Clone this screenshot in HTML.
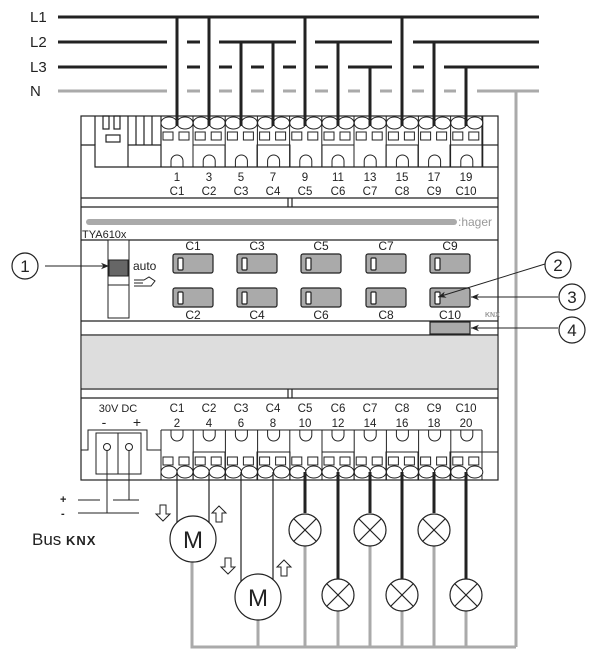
<!DOCTYPE html>
<html><head><meta charset="utf-8"><style>
html,body{margin:0;padding:0;background:#fff;}
svg{display:block;font-family:"Liberation Sans",Arial,sans-serif;}
</style></head><body>
<svg width="609" height="663" viewBox="0 0 609 663" xmlns="http://www.w3.org/2000/svg">
<defs>
<marker id="ah" viewBox="0 0 10 10" refX="10" refY="5" markerWidth="8" markerHeight="8" orient="auto"><path d="M0,1 L10,5 L0,9 L3,5 z" fill="#222"/></marker>
</defs>
<!-- Line labels -->
<g font-size="15" fill="#222">
<text x="30" y="22">L1</text><text x="30" y="47">L2</text><text x="30" y="72">L3</text><text x="30" y="96">N</text>
</g>
<g stroke="#222" stroke-width="3">
<line x1="58" y1="17" x2="539" y2="17"/>
<line x1="58" y1="42" x2="167" y2="42"/><line x1="187" y1="42" x2="200" y2="42"/><line x1="219" y1="42" x2="296" y2="42"/><line x1="315" y1="42" x2="392" y2="42"/><line x1="413" y1="42" x2="539" y2="42"/>
<line x1="58" y1="67" x2="167" y2="67"/><line x1="187" y1="67" x2="200" y2="67"/><line x1="219" y1="67" x2="232" y2="67"/><line x1="251" y1="67" x2="264" y2="67"/><line x1="283" y1="67" x2="296" y2="67"/><line x1="315" y1="67" x2="328" y2="67"/><line x1="348" y1="67" x2="392" y2="67"/><line x1="413" y1="67" x2="424" y2="67"/><line x1="444" y1="67" x2="539" y2="67"/>
<!-- drops -->
<line x1="177" y1="17" x2="177" y2="126"/><line x1="209" y1="17" x2="209" y2="126"/><line x1="305" y1="17" x2="305" y2="126"/><line x1="402" y1="17" x2="402" y2="126"/>
<line x1="241" y1="42" x2="241" y2="126"/><line x1="273" y1="42" x2="273" y2="126"/><line x1="338" y1="42" x2="338" y2="126"/><line x1="434" y1="42" x2="434" y2="126"/>
<line x1="370" y1="67" x2="370" y2="126"/><line x1="466" y1="67" x2="466" y2="126"/>
</g>
<g stroke="#aaa" stroke-width="3">
<line x1="58" y1="91" x2="167" y2="91"/><line x1="187" y1="91" x2="200" y2="91"/><line x1="219" y1="91" x2="232" y2="91"/><line x1="251" y1="91" x2="264" y2="91"/><line x1="283" y1="91" x2="296" y2="91"/><line x1="315" y1="91" x2="328" y2="91"/><line x1="348" y1="91" x2="360" y2="91"/><line x1="380" y1="91" x2="392" y2="91"/><line x1="412" y1="91" x2="424" y2="91"/><line x1="444" y1="91" x2="456" y2="91"/><line x1="477" y1="91" x2="539" y2="91"/>
<line x1="516" y1="91" x2="516" y2="647"/>
<polyline points="192,560 192,647 516,647" fill="none"/>
<line x1="258" y1="620" x2="258" y2="647"/>
<line x1="305" y1="545" x2="305" y2="647"/><line x1="370" y1="545" x2="370" y2="647"/><line x1="434" y1="545" x2="434" y2="647"/>
<line x1="338" y1="611" x2="338" y2="647"/><line x1="402" y1="611" x2="402" y2="647"/><line x1="466" y1="611" x2="466" y2="647"/>
</g>
<!-- Device -->
<g fill="none" stroke="#222" stroke-width="1.2">
<rect x="81" y="116" width="417" height="364" fill="#fff"/>
<line x1="81" y1="198" x2="498" y2="198"/>
<line x1="81" y1="207" x2="498" y2="207"/>
<line x1="81" y1="240" x2="498" y2="240"/>
<line x1="81" y1="321" x2="498" y2="321"/>
<line x1="81" y1="335" x2="498" y2="335"/>
<line x1="81" y1="389" x2="498" y2="389"/>
<line x1="81" y1="398" x2="498" y2="398"/>
<line x1="288" y1="198" x2="288" y2="207"/><line x1="292" y1="198" x2="292" y2="207"/>
<line x1="288" y1="389" x2="288" y2="398"/><line x1="292" y1="389" x2="292" y2="398"/>
<!-- top left details -->
<polyline points="81,145 95,145 95,167 498,167"/>
<line x1="95" y1="116" x2="95" y2="145"/>
<line x1="128" y1="116" x2="128" y2="167"/>
<rect x="103" y="116" width="6" height="13"/><rect x="114" y="116" width="6" height="13"/>
<rect x="106" y="135" width="14" height="7"/>
<line x1="136" y1="116" x2="136" y2="145"/><line x1="144" y1="116" x2="144" y2="145"/><line x1="152" y1="116" x2="152" y2="145"/>
<line x1="128" y1="145" x2="161" y2="145"/>
<line x1="161" y1="116" x2="161" y2="167"/>
<line x1="482" y1="116" x2="482" y2="145"/><line x1="482" y1="145" x2="498" y2="145"/>
</g>
<!-- top terminals -->
<g fill="#fff" stroke="#222" stroke-width="1">
<g id="tt">
<ellipse cx="169" cy="123" rx="8" ry="6"/><ellipse cx="185" cy="123" rx="8" ry="6"/>
<rect x="163" y="132" width="10" height="8"/><rect x="179" y="132" width="10" height="8"/>
<path d="M171,167 L171,161 A6,6 0 0 1 183,161 L183,167" fill="none"/>
<line x1="193" y1="116" x2="193" y2="167"/>
</g>
<use href="#tt" x="32.2"/><use href="#tt" x="64.4"/><use href="#tt" x="96.6"/><use href="#tt" x="128.8"/><use href="#tt" x="161"/><use href="#tt" x="193.2"/><use href="#tt" x="225.4"/><use href="#tt" x="257.6"/><use href="#tt" x="289.8"/>
</g>
<g fill="none" stroke="#222" stroke-width="1">
<polyline points="193,167 193,145 225,145 225,167"/><polyline points="257,167 257,145 290,145 290,167"/><polyline points="322,167 322,145 354,145 354,167"/><polyline points="386,167 386,145 418,145 418,167"/><polyline points="450,167 450,145 482,145 482,167"/>
</g>
<g stroke="#222" stroke-width="3">
<line x1="177" y1="116" x2="177" y2="126"/><line x1="209" y1="116" x2="209" y2="126"/><line x1="241" y1="116" x2="241" y2="126"/><line x1="273" y1="116" x2="273" y2="126"/><line x1="305" y1="116" x2="305" y2="126"/><line x1="338" y1="116" x2="338" y2="126"/><line x1="370" y1="116" x2="370" y2="126"/><line x1="402" y1="116" x2="402" y2="126"/><line x1="434" y1="116" x2="434" y2="126"/><line x1="466" y1="116" x2="466" y2="126"/>
</g>
<g font-size="11.5" fill="#222" text-anchor="middle">
<text x="177" y="181">1</text><text x="209" y="181">3</text><text x="241" y="181">5</text><text x="273" y="181">7</text><text x="305" y="181">9</text><text x="338" y="181">11</text><text x="370" y="181">13</text><text x="402" y="181">15</text><text x="434" y="181">17</text><text x="466" y="181">19</text>
<text x="177" y="195">C1</text><text x="209" y="195">C2</text><text x="241" y="195">C3</text><text x="273" y="195">C4</text><text x="305" y="195">C5</text><text x="338" y="195">C6</text><text x="370" y="195">C7</text><text x="402" y="195">C8</text><text x="434" y="195">C9</text><text x="466" y="195">C10</text>
</g>
<!-- hager bar -->
<rect x="86" y="219" width="371" height="6" rx="3" fill="#aaa"/>
<text x="458" y="226" font-size="12" fill="#999">:hager</text>
<text x="82" y="238" font-size="11" fill="#222">TYA610x</text>
<!-- manual switch -->
<rect x="108" y="240" width="21" height="78" fill="#fff" stroke="#222" stroke-width="1"/>
<rect x="109" y="260" width="19" height="16" fill="#666" stroke="#222" stroke-width="1"/>
<line x1="108" y1="285" x2="129" y2="285" stroke="#222"/>
<text x="133" y="270" font-size="12" fill="#222">auto</text>
<path d="M134,280 h10 l5,-3 l6,4 l-4,5 h-11 M134,283 h9 M134,286 h9" fill="none" stroke="#222" stroke-width="1"/>
<!-- buttons -->
<g stroke="#222" stroke-width="1.2">
<g id="bt"><rect x="173" y="254" width="40" height="19" rx="2" fill="#aaa"/><rect x="178" y="258" width="5" height="12" rx="1" fill="#fff"/></g>
<use href="#bt" x="64"/><use href="#bt" x="128"/><use href="#bt" x="193"/><use href="#bt" x="257"/>
<use href="#bt" y="34"/><use href="#bt" x="64" y="34"/><use href="#bt" x="128" y="34"/><use href="#bt" x="193" y="34"/><use href="#bt" x="257" y="34"/>
<rect x="430" y="322" width="40" height="12" fill="#aaa"/>
</g>
<g font-size="12" fill="#222" text-anchor="middle">
<text x="193" y="250">C1</text><text x="257" y="250">C3</text><text x="321" y="250">C5</text><text x="386" y="250">C7</text><text x="450" y="250">C9</text>
<text x="193" y="319">C2</text><text x="257" y="319">C4</text><text x="321" y="319">C6</text><text x="386" y="319">C8</text><text x="450" y="319">C10</text>
</g>
<text x="485" y="317" font-size="7" fill="#999" font-weight="bold">KNX</text>
<rect x="82" y="336" width="415" height="52" fill="#ddd"/>
<!-- callouts -->
<g fill="#fff" stroke="#222" stroke-width="1.2">
<circle cx="25" cy="266" r="13"/><circle cx="558" cy="265" r="13"/><circle cx="572" cy="297" r="13"/><circle cx="572" cy="330" r="13"/>
</g>
<g font-size="17" fill="#222" text-anchor="middle">
<text x="25" y="272">1</text><text x="558" y="271">2</text><text x="572" y="303">3</text><text x="572" y="336">4</text>
</g>
<g stroke="#222" stroke-width="1" marker-end="url(#ah)">
<line x1="45" y1="266" x2="109" y2="266"/>
<line x1="545" y1="264" x2="438" y2="297"/>
<line x1="558" y1="297" x2="471" y2="297"/>
<line x1="558" y1="328" x2="471" y2="328"/>
</g>
<!-- bottom labels -->
<g font-size="11.5" fill="#222" text-anchor="middle">
<text x="118" y="412" font-size="11">30V DC</text>
<text x="104" y="427" font-size="14">-</text><text x="137" y="427" font-size="14">+</text>
<text x="177" y="412">C1</text><text x="209" y="412">C2</text><text x="241" y="412">C3</text><text x="273" y="412">C4</text><text x="305" y="412">C5</text><text x="338" y="412">C6</text><text x="370" y="412">C7</text><text x="402" y="412">C8</text><text x="434" y="412">C9</text><text x="466" y="412">C10</text>
<text x="177" y="427">2</text><text x="209" y="427">4</text><text x="241" y="427">6</text><text x="273" y="427">8</text><text x="305" y="427">10</text><text x="338" y="427">12</text><text x="370" y="427">14</text><text x="402" y="427">16</text><text x="434" y="427">18</text><text x="466" y="427">20</text>
</g>
<!-- bottom terminals -->
<g fill="none" stroke="#222" stroke-width="1">
<polyline points="81,450 88,450 88,430 147,430 147,450 161,450"/>
<rect x="96" y="433" width="45" height="41"/><line x1="118" y1="433" x2="118" y2="474"/>
<circle cx="107" cy="447" r="3.5"/><circle cx="129" cy="447" r="3.5"/>
<line x1="161" y1="430" x2="482" y2="430"/>
<line x1="482" y1="430" x2="482" y2="480"/><line x1="482" y1="452" x2="498" y2="452"/>
<polyline points="193,480 193,452 225,452 225,480"/><polyline points="257,480 257,452 290,452 290,480"/><polyline points="322,480 322,452 354,452 354,480"/><polyline points="386,480 386,452 418,452 418,480"/><polyline points="450,480 450,452 482,452 482,480"/>
</g>
<g fill="#fff" stroke="#222" stroke-width="1">
<g id="bb">
<ellipse cx="169" cy="472" rx="8" ry="6"/><ellipse cx="185" cy="472" rx="8" ry="6"/>
<rect x="163" y="457" width="10" height="8"/><rect x="179" y="457" width="10" height="8"/>
<path d="M171,430 L171,435 A6,6 0 0 0 183,435 L183,430" fill="none"/>
<line x1="161" y1="430" x2="161" y2="480"/>
</g>
<use href="#bb" x="32.2"/><use href="#bb" x="64.4"/><use href="#bb" x="96.6"/><use href="#bb" x="128.8"/><use href="#bb" x="161"/><use href="#bb" x="193.2"/><use href="#bb" x="225.4"/><use href="#bb" x="257.6"/><use href="#bb" x="289.8"/>
</g>
<!-- bus -->
<g stroke="#222" stroke-width="1">
<line x1="107" y1="450" x2="107" y2="513"/><line x1="129" y1="450" x2="129" y2="500"/>
<line x1="78" y1="500" x2="100" y2="500"/><line x1="113" y1="500" x2="139" y2="500"/>
<line x1="78" y1="513" x2="139" y2="513"/>
</g>
<text x="60" y="503" font-size="11" font-weight="bold" fill="#222">+</text>
<text x="61" y="517" font-size="11" font-weight="bold" fill="#222">-</text>
<text x="32" y="545" font-size="17" fill="#222">Bus <tspan font-size="13" font-weight="bold" letter-spacing="1">KNX</tspan></text>
<!-- outputs -->
<g stroke="#222" stroke-width="1.2">
<line x1="177" y1="472" x2="177" y2="524"/><line x1="209" y1="472" x2="209" y2="524"/>
<line x1="241" y1="472" x2="241" y2="582"/><line x1="273" y1="472" x2="273" y2="582"/>
</g>
<g stroke="#222" stroke-width="3">
<line x1="305" y1="472" x2="305" y2="513"/><line x1="370" y1="472" x2="370" y2="513"/><line x1="434" y1="472" x2="434" y2="513"/>
<line x1="338" y1="472" x2="338" y2="579"/><line x1="402" y1="472" x2="402" y2="579"/><line x1="466" y1="472" x2="466" y2="579"/>
</g>
<g fill="#fff" stroke="#222" stroke-width="1.2">
<circle cx="193" cy="539" r="23"/><circle cx="258" cy="597" r="23"/>
</g>
<g font-size="24" fill="#222" text-anchor="middle"><text x="193" y="548">M</text><text x="258" y="606">M</text></g>
<g fill="#fff" stroke="#222" stroke-width="1.2">
<g id="lp"><circle cx="305" cy="530" r="16"/><line x1="294" y1="519" x2="316" y2="541"/><line x1="316" y1="519" x2="294" y2="541"/></g>
<use href="#lp" x="65"/><use href="#lp" x="129"/>
<use href="#lp" x="33" y="65"/><use href="#lp" x="97" y="65"/><use href="#lp" x="161" y="65"/>
</g>
<!-- hollow arrows -->
<g fill="#fff" stroke="#222" stroke-width="1">
<g id="da"><path d="M160,505 h6 v9 h4 l-7,7 l-7,-7 h4 z"/></g>
<use href="#da" x="65" y="53"/>
<g id="ua"><path d="M216,522 h6 v-9 h4 l-7,-7 l-7,7 h4 z"/></g>
<use href="#ua" x="65" y="54"/>
</g>
</svg>
</body></html>
